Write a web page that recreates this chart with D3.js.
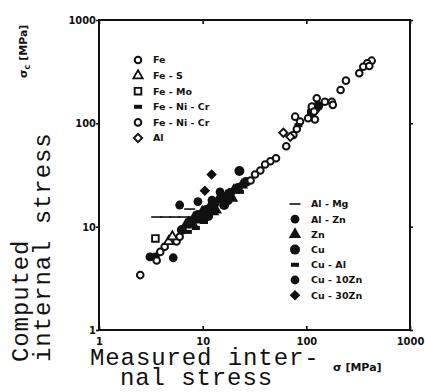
<!DOCTYPE html>
<html>
<head>
<meta charset="utf-8">
<script src="https://cdn.jsdelivr.net/npm/d3@7"></script>
<style>
  body { margin: 0; background: #fff; }
  svg { display: block; }
</style>
</head>
<body>
<div id="chart"></div>
<script>
// tick values, both axes are log scales in MPa
const xTicks = [1, 10, 100, 1000]
const yTicks = [1, 10, 100, 1000]

const upperLegend = ['Fe', 'Fe - S', 'Fe - Mo', 'Fe - Ni - Cr', 'Fe - Ni - Cr', 'Al']
const lowerLegend = ['Al - Mg', 'Al - Zn', 'Zn', 'Cu', 'Cu - Al', 'Cu - 10Zn', 'Cu - 30Zn']

// [measured, computed] pairs, MPa
const fe = [[427, 404], [387, 381], [354, 353], [324, 305], [405, 359], [241, 259], [214, 210],
  [126, 175], [151, 162], [176, 162], [180, 151], [113, 145], [119, 130], [121, 109], [104, 112],
  [78, 116], [87, 104], [81, 88], [75, 77],
  [5.6, 7.2], [6.0, 8.0], [4.3, 6.4], [3.9, 5.7], [3.6, 4.7], [2.5, 3.4]]
const feS = [[4.7, 7.2], [5.1, 8.0]]
const feMo = [[3.5, 7.7]]
const feNiCr1 = [[84, 96]]
const feNiCr2 = [[64, 60], [51, 46], [45, 43], [40, 40], [36, 35], [32, 32], [29, 28]]
const al = [[60, 81], [70, 74]]

const alMg = [[3.6, 12.4], [4.4, 12.4], [5.4, 12.4], [6.6, 12.4], [8.1, 12.4], [7.5, 14.8]]
const alZn = [[6.0, 16.2], [9.0, 17.5]]
const zn = [[6.9, 10.4], [8.2, 12.1], [9.9, 13.9], [11.8, 15.8], [14.1, 18.1], [16.8, 19.8],
  [20.0, 22.6], [23.9, 25.3], [9.4, 11.6], [13.4, 14.5], [19.2, 18.9], [8.0, 10.6], [12.6, 14.0]]
const cu = [[6.3, 9.3], [7.5, 11.1], [9.0, 13.0], [10.8, 14.5], [12.9, 16.6], [15.4, 18.9],
  [18.4, 21.2], [21.9, 23.7], [26.2, 27.1], [22.6, 34.6], [11.3, 12.7], [16.1, 16.2],
  [113, 129], [130, 147], [122, 138], [10.2, 12.2], [17.5, 18.0]]
const cuAl = [[7.2, 8.9], [8.6, 9.7], [10.3, 11.1], [22.9, 21.7]]
const cu10Zn = [[3.1, 5.1], [3.5, 5.1], [5.2, 5.0], [12.3, 18.1], [14.7, 21.7]]
const cu30Zn = [[12.2, 32], [10.5, 22.3]]

// marker kind for each legend row
const upperMarks = ['openCircle', 'openTriangle', 'openSquare', 'bar', 'openCircle', 'openDiamond']
const lowerMarks = ['thinLine', 'dot', 'triangle', 'bigDot', 'bar', 'dot', 'diamond']
const upperData = [fe, feS, feMo, feNiCr1, feNiCr2, al]
const lowerData = [alMg, alZn, zn, cu, cuAl, cu10Zn, cu30Zn]

const W = 425, H = 392
const ink = '#111'

const svg = d3.select('#chart').append('svg')
  .attr('width', W)
  .attr('height', H)
  .style('background', '#fff')

const x = d3.scaleLog().domain([1, 1000]).range([99, 410])
const y = d3.scaleLog().domain([1, 1000]).range([330, 20])

function drawMark(g, kind) {
  if (kind == 'openCircle') {
    g.append('circle').attr('r', 3.3).attr('fill', '#fff').attr('stroke', ink).attr('stroke-width', 2)
  } else if (kind == 'openTriangle') {
    g.append('path').attr('d', d3.symbol(d3.symbolTriangle, 38)()).attr('fill', '#fff').attr('stroke', ink).attr('stroke-width', 1.8)
  } else if (kind == 'openSquare') {
    g.append('path').attr('d', d3.symbol(d3.symbolSquare, 44)()).attr('fill', '#fff').attr('stroke', ink).attr('stroke-width', 1.9)
  } else if (kind == 'openDiamond') {
    g.append('path').attr('d', d3.symbol(d3.symbolSquare, 34)()).attr('transform', 'rotate(45)')
      .attr('fill', '#fff').attr('stroke', ink).attr('stroke-width', 1.9)
  } else if (kind == 'bar') {
    g.append('rect').attr('x', -4).attr('y', -2).attr('width', 8).attr('height', 4).attr('fill', ink)
  } else if (kind == 'thinLine') {
    g.append('line').attr('x1', -5.5).attr('x2', 5.5).attr('stroke', ink).attr('stroke-width', 1.6)
  } else if (kind == 'dot') {
    g.append('circle').attr('r', 4.4).attr('fill', ink)
  } else if (kind == 'bigDot') {
    g.append('circle').attr('r', 5).attr('fill', ink)
  } else if (kind == 'triangle') {
    g.append('path').attr('d', d3.symbol(d3.symbolTriangle, 66)()).attr('fill', ink)
  } else if (kind == 'diamond') {
    g.append('path').attr('d', d3.symbol(d3.symbolSquare, 56)()).attr('transform', 'rotate(45)').attr('fill', ink)
  }
}

// points
const points = svg.append('g')
lowerData.concat(upperData).forEach((data, i) => {
  const kind = lowerMarks.concat(upperMarks)[i]
  data.forEach(d => {
    const g = points.append('g').attr('transform', `translate(${x(d[0])},${y(d[1])})`)
    drawMark(g, kind)
  })
})

// frame
svg.append('rect')
  .attr('x', x(1)).attr('y', y(1000))
  .attr('width', x(1000) - x(1)).attr('height', y(1) - y(1000))
  .attr('fill', 'none').attr('stroke', ink).attr('stroke-width', 2)

const tickFont = 'DejaVu Sans Condensed, DejaVu Sans, sans-serif'

svg.append('g')
  .attr('transform', `translate(0,${y(1)})`)
  .call(d3.axisBottom(x).tickValues(xTicks).tickFormat(d3.format('d')).tickSize(-4).tickPadding(7))
svg.append('g')
  .attr('transform', `translate(${x(1)},0)`)
  .call(d3.axisLeft(y).tickValues(yTicks).tickFormat(d3.format('d')).tickSize(3).tickPadding(0))
svg.append('g')
  .attr('transform', `translate(0,${y(1000)})`)
  .call(d3.axisTop(x).tickValues(xTicks).tickFormat('').tickSize(-4))
svg.append('g')
  .attr('transform', `translate(${x(1000)},0)`)
  .call(d3.axisRight(y).tickValues(yTicks).tickFormat('').tickSize(3))

svg.selectAll('.domain').remove()
svg.selectAll('.tick line').attr('stroke', ink).attr('stroke-width', 1.6)
svg.selectAll('.tick text')
  .attr('fill', ink)
  .style('font-family', tickFont)
  .style('font-size', '11px')
  .style('font-weight', 'bold')

// legends
const legendStyle = sel => sel.attr('fill', ink)
  .style('font-family', 'DejaVu Sans, sans-serif')
  .style('font-size', '9.5px')
  .style('font-weight', 'bold')

upperLegend.forEach((name, i) => {
  const row = svg.append('g').attr('transform', `translate(138,${60 + i * 15.6})`)
  drawMark(row, upperMarks[i])
  row.append('text').attr('x', 15).attr('dy', '0.35em').text(name).call(legendStyle)
})
lowerLegend.forEach((name, i) => {
  const row = svg.append('g').attr('transform', `translate(295,${204 + i * 15.2})`)
  drawMark(row, lowerMarks[i])
  row.append('text').attr('x', 16).attr('dy', '0.35em').text(name).call(legendStyle)
})

// axis titles
const titleStyle = sel => sel.attr('fill', ink)
  .style('font-family', 'Liberation Mono, DejaVu Sans Mono, monospace')
  .style('font-size', '24px')
  .style('letter-spacing', '0.9px')

svg.append('text').attr('x', 90).attr('y', 365).text('Measured inter-').call(titleStyle)
svg.append('text').attr('x', 120).attr('y', 385).text('nal stress').call(titleStyle)
svg.append('text').attr('transform', 'translate(28,362) rotate(-90)').text('Computed').call(titleStyle)
svg.append('text').attr('transform', 'translate(50,362) rotate(-90)').text('internal stress').call(titleStyle)

// units
const unitStyle = sel => sel.attr('fill', ink)
  .style('font-family', 'DejaVu Sans, sans-serif')
  .style('font-size', '11px')
  .style('font-weight', 'bold')

svg.append('text').attr('x', 333).attr('y', 371).text('σ  [MPa]').call(unitStyle)
const yUnit = svg.append('text').attr('transform', 'translate(27,78) rotate(-90)').call(unitStyle)
yUnit.append('tspan').text('σ')
yUnit.append('tspan').attr('dy', 3).style('font-size', '8px').text('c')
yUnit.append('tspan').attr('dy', -3).text('  [MPa]')
</script>
</body>
</html>
